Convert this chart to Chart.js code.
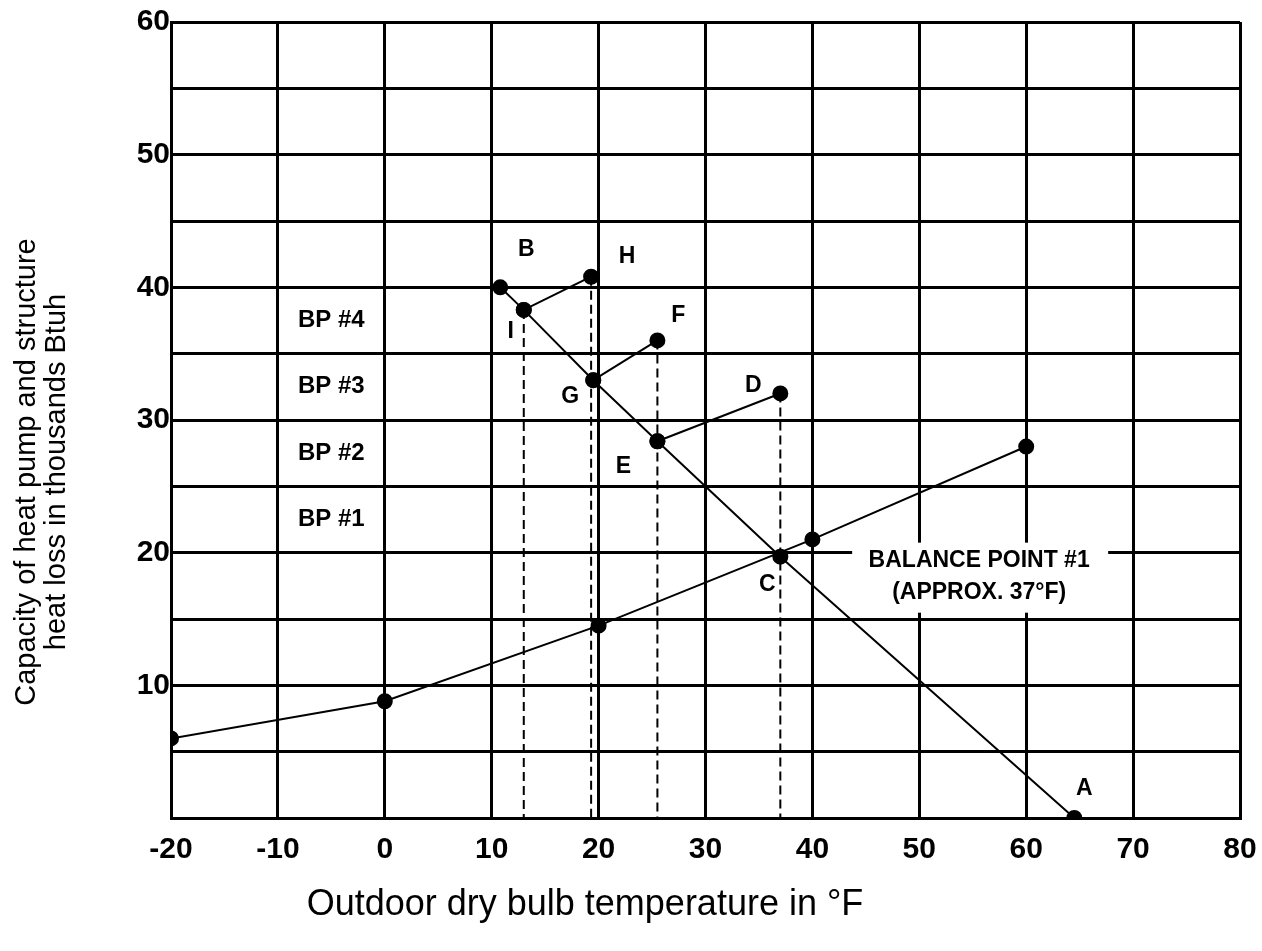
<!DOCTYPE html>
<html lang="en">
<head>
<meta charset="UTF-8">
<title>Heat pump balance points</title>
<script src="https://cdn.jsdelivr.net/npm/chart.js@4.4.1/dist/chart.umd.min.js"></script>
<style>
  html, body { margin: 0; padding: 0; background: #fff; }
  #wrap { width: 1262px; height: 951px; }
</style>
</head>
<body>
<div id="wrap"><canvas id="bpChart"></canvas></div>
<script>
// axis ticks
const xTicks = [-20, -10, 0, 10, 20, 30, 40, 50, 60, 70, 80];
const yTickLabels = [10, 20, 30, 40, 50, 60];

// heat pump capacity, first stage
const capTemps = [-20, 0, 20, 40, 60];
const capValues = [6, 8.8, 14.5, 21, 28];

// structure heat loss line (A ... B)
const lossNames = ['A', 'C', 'E', 'G', 'I', 'B'];
const lossTemps = [64.5, 37, 25.5, 19.5, 13, 10.8];
const lossValues = [0, 19.7, 28.4, 33, 38.3, 40];

// added stages
const bp2Temps = [25.5, 37];
const bp2Values = [28.4, 32];
const bp3Temps = [19.5, 25.5];
const bp3Values = [33, 36];
const bp4Temps = [13, 19.3];
const bp4Values = [38.3, 40.8];
const stageNames = ['D', 'F', 'H'];

// dashed drops to the temperature axis
const dropTemps = [13, 19.3, 25.5, 37];
const dropValues = [38.3, 40.8, 36, 32];

// BP labels sit between grid lines
const bpLabels = ['BP #1', 'BP #2', 'BP #3', 'BP #4'];
const bpLevels = [22.5, 27.5, 32.5, 37.5];
const bpLabelTemp = -5;

const balanceText = ['BALANCE POINT #1', '(APPROX. 37°F)'];
const balanceTemp = 55.6;
const balanceValue = 20;

const FONT = '"Liberation Sans", Arial, Helvetica, sans-serif';

const pts = (xs, ys) => xs.map((x, i) => ({ x: x, y: ys[i] }));

const solid = (data, showPts) => ({
    data: data,
    borderColor: '#000',
    backgroundColor: '#000',
    borderWidth: 2,
    pointRadius: showPts ? 7 : 0,
    pointHoverRadius: showPts ? 7 : 0,
    showLine: true,
    tension: 0
});

const datasets = [
    solid(pts(capTemps, capValues), true),
    solid(pts(lossTemps, lossValues), true),
    solid(pts(bp2Temps, bp2Values), true),
    solid(pts(bp3Temps, bp3Values), true),
    solid(pts(bp4Temps, bp4Values), true)
];
dropTemps.forEach((t, i) => {
    const d = solid([{ x: t, y: dropValues[i] }, { x: t, y: 0 }], false);
    d.borderDash = [9, 5];
    datasets.push(d);
});

// pixel offsets of the point letters
const letterOffsets = {
    A: [10, -29], C: [-13, 28], E: [-34, 25], G: [-23, 16], I: [-13, 22], B: [26, -38],
    D: [-27, -8], F: [21, -25], H: [36, -20]
};

const textPlugin = {
    id: 'textPlugin',
    afterDatasetsDraw(chart) {
        const ctx = chart.ctx;
        const xs = chart.scales.x, ys = chart.scales.y;
        ctx.save();
        ctx.fillStyle = '#000';
        ctx.textAlign = 'center';
        ctx.textBaseline = 'middle';

        // letters
        ctx.font = 'bold 23px ' + FONT;
        const letter = (name, x, y) => {
            const o = letterOffsets[name];
            ctx.fillText(name, xs.getPixelForValue(x) + o[0], ys.getPixelForValue(y) + o[1]);
        };
        lossNames.forEach((n, i) => letter(n, lossTemps[i], lossValues[i]));
        letter(stageNames[0], bp2Temps[1], bp2Values[1]);
        letter(stageNames[1], bp3Temps[1], bp3Values[1]);
        letter(stageNames[2], bp4Temps[1], bp4Values[1]);

        // BP labels
        ctx.font = 'bold 24px ' + FONT;
        bpLabels.forEach((t, i) => {
            ctx.fillText(t, xs.getPixelForValue(bpLabelTemp), ys.getPixelForValue(bpLevels[i]));
        });

        // balance point note with white backing over the grid
        const bx = xs.getPixelForValue(balanceTemp);
        const by = ys.getPixelForValue(balanceValue);
        ctx.fillStyle = '#fff';
        ctx.fillRect(bx - 127, by - 10, 256, 70);
        ctx.fillStyle = '#000';
        ctx.font = 'bold 23px ' + FONT;
        ctx.fillText(balanceText[0], bx, by + 8);
        ctx.fillText(balanceText[1], bx, by + 40);
        ctx.restore();
    },
    afterDraw(chart) {
        const ctx = chart.ctx;
        ctx.save();
        ctx.fillStyle = '#000';
        ctx.textAlign = 'center';
        ctx.textBaseline = 'middle';
        ctx.font = '36px ' + FONT;
        ctx.fillText('Outdoor dry bulb temperature in °F', 585, 905);
        ctx.translate(41, 472);
        ctx.rotate(-Math.PI / 2);
        ctx.font = '29px ' + FONT;
        ctx.fillText('Capacity of heat pump and structure', 0, -14);
        ctx.fillText('heat loss in thousands Btuh', 0, 16);
        ctx.restore();
    }
};

const config = {
    type: 'scatter',
    data: { datasets: datasets },
    options: {
        responsive: true,
        maintainAspectRatio: false,
        animation: false,
        layout: { padding: { top: 22, right: 0, left: 0, bottom: 0 } },
        plugins: {
            legend: { display: false },
            tooltip: { enabled: false }
        },
        scales: {
            x: {
                type: 'linear',
                min: -20,
                max: 80,
                afterBuildTicks: scale => { scale.ticks = xTicks.map(v => ({ value: v })); },
                afterFit: scale => {
                    scale.height = 133;
                    scale.paddingRight = 22;
                    scale.paddingLeft = 0;
                },
                border: { color: '#000', width: 3 },
                grid: { color: '#000', lineWidth: 3, drawTicks: false },
                ticks: {
                    color: '#000',
                    padding: 14,
                    font: { family: FONT, size: 30, weight: 'bold' }
                }
            },
            y: {
                min: 0,
                max: 60,
                ticks: {
                    stepSize: 5,
                    color: '#000',
                    padding: 1,
                    font: { family: FONT, size: 30, weight: 'bold' },
                    callback: v => yTickLabels.includes(v) ? String(v) : ''
                },
                afterFit: scale => { scale.width = 171; },
                border: { color: '#000', width: 3 },
                grid: { color: '#000', lineWidth: 3, drawTicks: false }
            }
        }
    },
    plugins: [textPlugin]
};

const bpChart = new Chart(document.getElementById('bpChart'), config);
</script>
</body>
</html>
